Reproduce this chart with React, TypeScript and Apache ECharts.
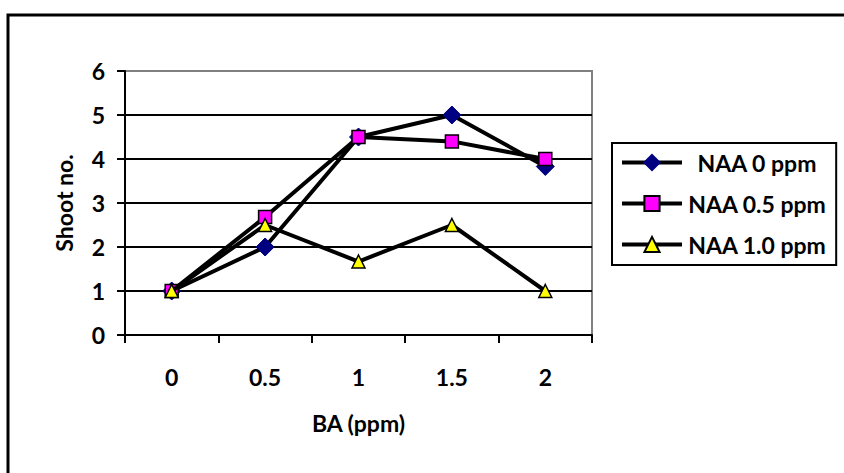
import React, { useEffect, useRef } from "react";
import * as echarts from "echarts";

const categories = ["0", "0.5", "1", "1.5", "2"];
const naa0 = [1, 2, 4.5, 5, 3.83];
const naa05 = [1, 2.68, 4.5, 4.4, 4.0];
const naa10 = [1, 2.5, 1.67, 2.5, 1];
const seriesNames = ["NAA 0 ppm", "NAA 0.5 ppm", "NAA 1.0 ppm"];
const yTicks = [0, 1, 2, 3, 4, 5, 6];

const FONT = "Lato, 'Open Sans', sans-serif";
const FS = 23;

export default function App() {
  const ref = useRef<HTMLDivElement>(null);
  useEffect(() => {
    if (!ref.current) return;
    const chart = echarts.init(ref.current, null, { renderer: "svg" });
    const lineStyle = { color: "#000", width: 4 };
    const txt = { color: "#000", fontSize: FS, fontWeight: "bold", fontFamily: FONT };
    chart.setOption({
      animation: false,
      backgroundColor: "#fff",
      textStyle: { fontFamily: FONT },
      grid: {
        left: 125,
        right: 252,
        top: 71,
        bottom: 138,
        show: true,
        borderColor: "#808080",
        borderWidth: 2,
        backgroundColor: "transparent",
      },
      legend: {
        orient: "vertical",
        left: 612,
        top: 143,
        padding: [8, 10, 9, 8],
        itemGap: 18,
        itemWidth: 60,
        itemHeight: 19,
        borderColor: "#000",
        borderWidth: 2,
        lineStyle: { color: "#000", width: 4 },
        data: seriesNames,
        formatter: (name: string) => `{t|${name}}`,
        textStyle: {
          ...txt,
          rich: { t: { ...txt, width: 140, align: "center" } },
        },
      },
      xAxis: {
        type: "category",
        data: categories,
        boundaryGap: true,
        name: "BA (ppm)",
        nameLocation: "middle",
        nameGap: 76,
        nameTextStyle: txt,
        axisLine: { lineStyle: { color: "#000", width: 2 } },
        axisTick: { show: true, length: 8, lineStyle: { color: "#000", width: 2 } },
        axisLabel: { ...txt, margin: 30 },
        splitLine: { show: false },
      },
      yAxis: {
        type: "value",
        min: yTicks[0],
        max: yTicks[yTicks.length - 1],
        interval: 1,
        name: "Shoot no.",
        nameLocation: "middle",
        nameGap: 50,
        nameRotate: 90,
        nameTextStyle: txt,
        axisLine: { show: true, lineStyle: { color: "#000", width: 2 } },
        axisTick: { show: true, length: 8, lineStyle: { color: "#000", width: 2 } },
        axisLabel: { ...txt, margin: 20 },
        splitLine: {
          show: true,
          lineStyle: {
            color: ["#000", "#000", "#000", "#000", "#000", "#000", "#808080"],
            width: 2,
          },
        },
      },
      series: [
        {
          name: seriesNames[0],
          type: "line",
          data: naa0,
          symbol: "diamond",
          symbolSize: 18,
          lineStyle,
          itemStyle: { color: "#000080", borderColor: "#000080", borderWidth: 1 },
          z: 3,
        },
        {
          name: seriesNames[1],
          type: "line",
          data: naa05,
          symbol: "rect",
          symbolSize: 13,
          lineStyle,
          itemStyle: { color: "#FF00FF", borderColor: "#000", borderWidth: 1.5 },
          z: 4,
        },
        {
          name: seriesNames[2],
          type: "line",
          data: naa10,
          symbol: "triangle",
          symbolSize: 13,
          lineStyle,
          itemStyle: { color: "#FFFF00", borderColor: "#000", borderWidth: 1.5 },
          z: 5,
        },
      ],
      graphic: [
        {
          type: "rect",
          shape: { x: 8, y: 15, width: 900, height: 600 },
          style: { fill: "none", stroke: "#000", lineWidth: 3 },
          silent: true,
        },
      ],
    });
    return () => chart.dispose();
  }, []);
  return (
    <div
      ref={ref}
      style={{ position: "fixed", left: 0, top: 0, width: 844, height: 473 }}
    />
  );
}
